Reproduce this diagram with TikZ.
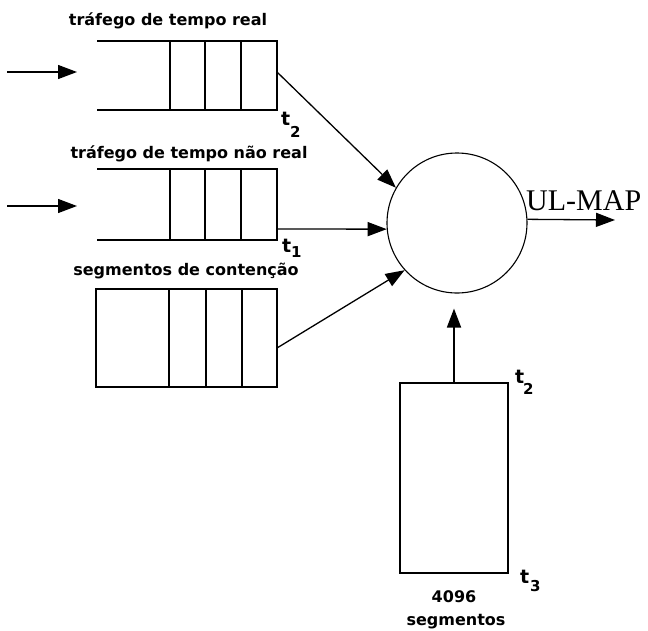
\documentclass[tikz,border=0pt]{standalone}
\usepackage{fontspec}
\newfontfamily\lbl{DejaVu Sans}
\newfontfamily\ser{Liberation Serif}
\usetikzlibrary{arrows.meta}
\begin{document}
\begin{tikzpicture}[x=1pt,y=-1pt,
 qline/.style={line width=1.5pt},
 conn/.style={line width=1.3pt,-{Triangle[length=19pt,width=14pt]}},
 lab/.style={font=\lbl\bfseries\fontsize{16}{18}\selectfont, inner sep=0pt, anchor=base},
 tl/.style={font=\lbl\bfseries\fontsize{19}{20}\selectfont, inner sep=0pt, anchor=base west},
 ts/.style={font=\lbl\bfseries\fontsize{15}{16}\selectfont, inner sep=0pt, anchor=base west}]
\useasboundingbox (0,0) rectangle (648,630);

% queue 1 (open on the left)
\draw[qline] (97,41) -- (277,41) -- (277,110) -- (97,110);
\foreach \x in {170,205,241} \draw[qline] (\x,41) -- (\x,110);
\coordinate (q1) at (277,72);
\coordinate (in1s) at (7,72);
\coordinate (in1e) at (77,72);

% queue 2 (open on the left)
\draw[qline] (97,169) -- (277,169) -- (277,240) -- (97,240);
\foreach \x in {170,205,241} \draw[qline] (\x,169) -- (\x,240);
\coordinate (q2) at (277,229);
\coordinate (in2s) at (7,206);
\coordinate (in2e) at (77,206);

% queue 3 (closed)
\draw[qline] (96,289) rectangle (277,387);
\foreach \x in {169,206,242} \draw[qline] (\x,289) -- (\x,387);
\coordinate (q3) at (277,348);

% labels
\node[lab] (l1) at (168,25) {tráfego de tempo real};
\node[lab] (l2) at (189,158) {tráfego de tempo não real};
\node[lab] (l3) at (186,275) {segmentos de contenção};

% t labels
\node[tl] (t2a) at (281,125) {t};
\node[ts] (t2as) at (290,137) {2};
\node[tl] (t1a) at (282,252) {t};
\node[ts] (t1as) at (291,257) {1};

% scheduler circle
\node[draw, circle, minimum size=140pt, inner sep=0pt, line width=1.1pt] (sch) at (457,223) {};

% input arrows
\draw[conn] (in1s) -- (in1e);
\draw[conn] (in2s) -- (in2e);

% queue to scheduler
\draw[conn] (q1) -- (sch.150);
\draw[conn] (q2) -- (sch.185);
\draw[conn] (q3) -- (sch.222);

% output
\coordinate (ulend) at (615,220);
\draw[conn] (sch.3) -- (ulend);
\node[font=\ser\fontsize{30}{32}\selectfont, anchor=base west, inner sep=0pt] (ul) at (526,210) {UL-MAP};

% segment frame
\node[draw, line width=1.5pt, minimum width=108pt, minimum height=190pt, inner sep=0pt] (seg) at (454,478) {};
\draw[conn, line width=1.8pt] (seg.north) -- ([yshift=-15pt]seg.north |- sch.south);
\node[tl] (t2b) at (515,383) {t};
\node[ts] (t2bs) at (523,394) {2};
\node[tl] (t3b) at (520,583) {t};
\node[ts] (t3bs) at (530,591) {3};
\node[lab] (n4096) at (454,602) {4096};
\node[lab] (nseg) at (456,625) {segmentos};
\end{tikzpicture}
\end{document}
